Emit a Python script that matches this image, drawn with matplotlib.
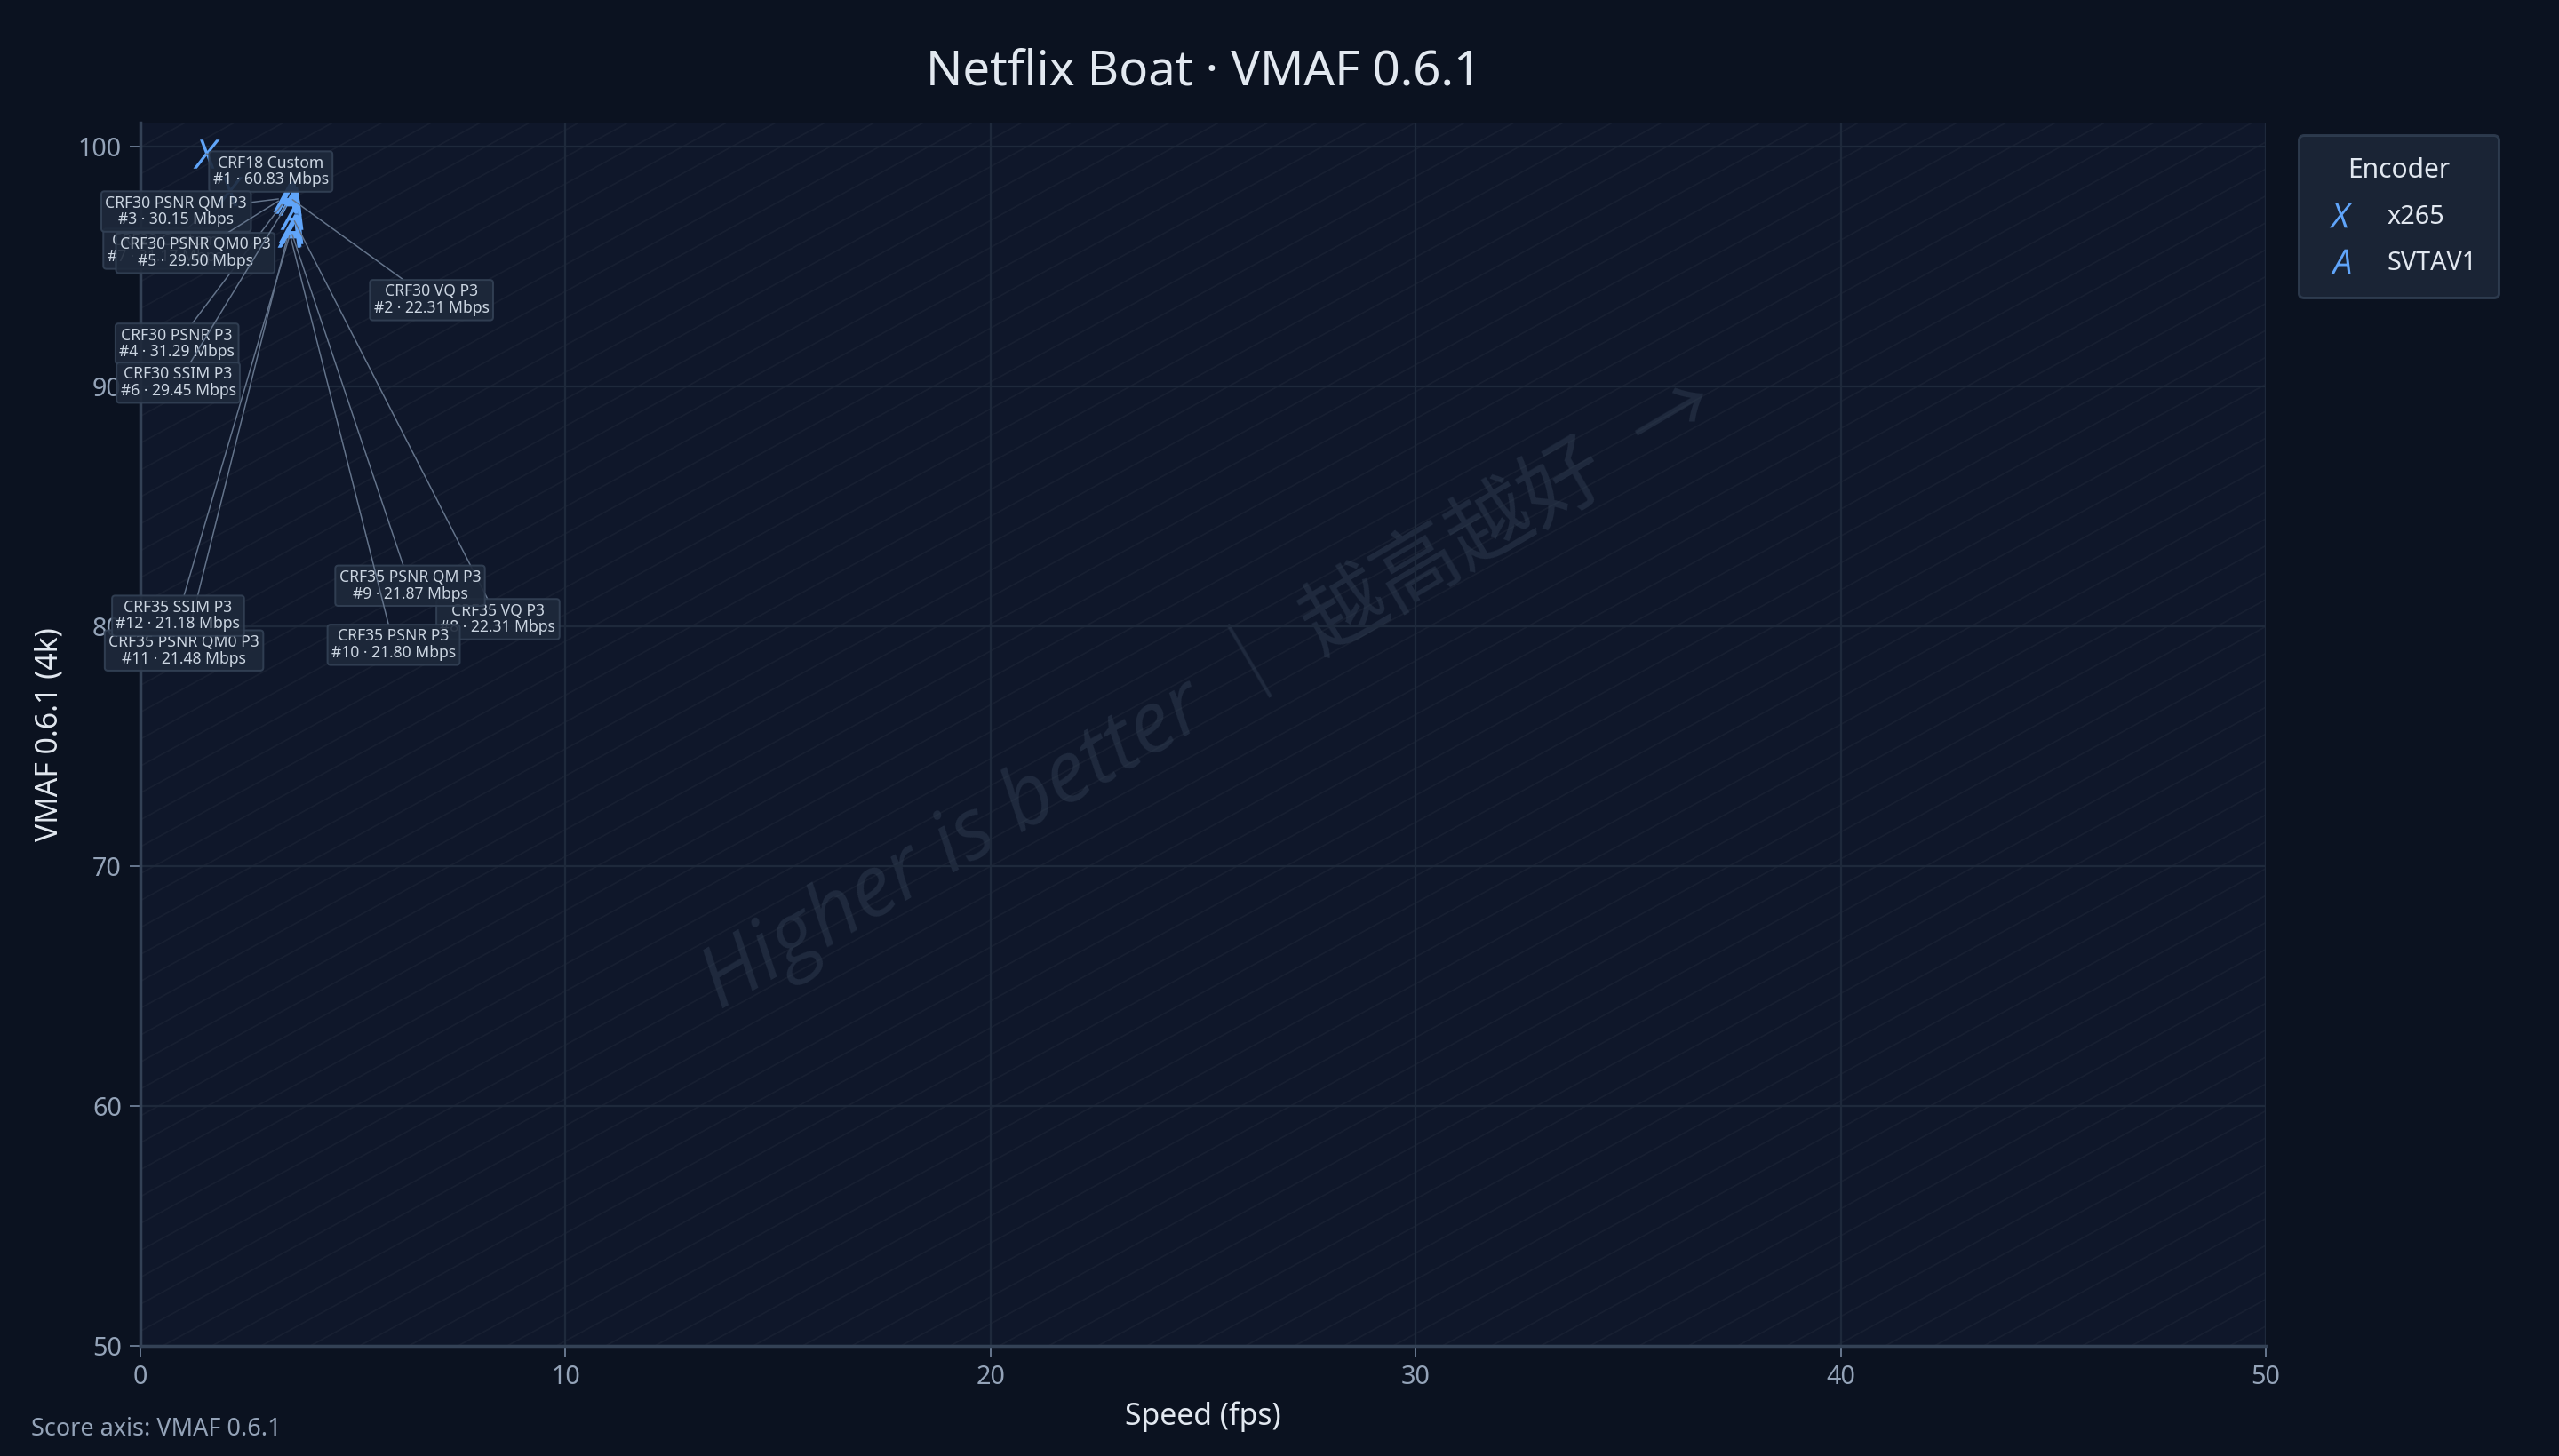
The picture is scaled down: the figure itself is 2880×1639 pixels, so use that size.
import matplotlib
matplotlib.use('Agg')
import matplotlib.pyplot as plt
import numpy as np

# Data
encoders = ['x265', 'SVTAV1', 'SVTAV1', 'SVTAV1', 'SVTAV1', 'SVTAV1',
            'x265', 'SVTAV1', 'SVTAV1', 'SVTAV1', 'SVTAV1', 'SVTAV1']
configs = ['CRF18 Custom', 'CRF30 VQ P3', 'CRF30 PSNR QM P3', 'CRF30 PSNR P3',
           'CRF30 PSNR QM0 P3', 'CRF30 SSIM P3', 'CRF22 Custom', 'CRF35 VQ P3',
           'CRF35 PSNR QM P3', 'CRF35 PSNR P3', 'CRF35 PSNR QM0 P3', 'CRF35 SSIM P3']
ranks = [1, 2, 3, 4, 5, 6, 7, 8, 9, 10, 11, 12]
speed_fps = [1.55, 3.45, 3.40, 3.42, 3.38, 3.50, 2.09, 3.55, 3.52, 3.50, 3.48, 3.55]
vmaf = [99.70, 97.95, 97.85, 97.80, 97.88, 97.75, 98.15, 97.15, 96.60, 96.45, 96.40, 96.55]
bitrate_mbps = [60.83, 22.31, 30.15, 31.29, 29.50, 29.45, 31.17, 22.31, 21.87, 21.80, 21.48, 21.18]

encoder_names = ['x265', 'SVTAV1']
encoder_markers = {'x265': '$X$', 'SVTAV1': '$A$'}

# label offsets (points) from each point
label_offsets = [(29, -8), (65, -47), (-49, -6), (-49, -65), (-40, -25), (-50, -82),
                 (-29, -26), (93, -182), (54, -161), (47, -186), (-47, -188), (-51, -174)]

FIG_BG = '#0b1220'
AX_BG = '#0f172a'
BLUE = '#60a5fa'

plt.rcParams['font.family'] = ['Noto Sans', 'Noto Sans CJK SC', 'DejaVu Sans']
plt.rcParams['mathtext.fontset'] = 'custom'
plt.rcParams['mathtext.it'] = 'Open Sans:italic'
plt.rcParams['mathtext.rm'] = 'Open Sans'

fig = plt.figure(figsize=(16, 1639 / 180), dpi=180, facecolor=FIG_BG)
ax = fig.add_axes([0.0549, 0.0757, 0.8305, 0.8401])
ax.set_facecolor(AX_BG)

ax.set_xlim(0, 50)
ax.set_ylim(50, 101)
ax.set_xticks([0, 10, 20, 30, 40, 50])
ax.set_yticks([50, 60, 70, 80, 90, 100])

# faint diagonal stripes
for c in np.arange(-1.0, 1.2, 0.022):
    xs = np.array([0, 1])
    ys = c + xs * 0.95
    ax.plot(xs, ys, transform=ax.transAxes, color='#ffffff', alpha=0.035,
            lw=0.7, zorder=0, clip_on=True)

ax.grid(True, color='#1e293b', lw=0.9, zorder=0.5)
for side in ['top', 'right']:
    ax.spines[side].set_visible(False)
for side in ['left', 'bottom']:
    ax.spines[side].set_color('#334155')
    ax.spines[side].set_linewidth(1.4)
ax.tick_params(colors='#94a3b8', labelsize=11.5, length=5, width=0.8)
ax.tick_params(axis='both', color='#64748b')

# watermark
ax.text(0.502, 0.535, 'Higher is better ｜ 越高越好  →', transform=ax.transAxes,
        rotation=30.5, ha='center', va='center', fontsize=38, style='italic',
        color='#334155', alpha=0.45, zorder=0.6,
        family=['Open Sans', 'Noto Sans CJK SC', 'DejaVu Sans'])

# points
for enc in encoder_names:
    xs = [s for s, e in zip(speed_fps, encoders) if e == enc]
    ys = [v for v, e in zip(vmaf, encoders) if e == enc]
    ax.plot(xs, ys, linestyle='none', marker=encoder_markers[enc], markersize=13,
            color=BLUE, markeredgewidth=0, label=enc, zorder=4)

# labels (x265 first, then SVTAV1)
order = [i for i in range(len(configs)) if encoders[i] == 'x265'] + \
        [i for i in range(len(configs)) if encoders[i] != 'x265']
for i in order:
    txt = '%s\n#%d · %.2f Mbps' % (configs[i], ranks[i], bitrate_mbps[i])
    ax.annotate(txt, xy=(speed_fps[i], vmaf[i]), xytext=label_offsets[i],
                textcoords='offset points', ha='center', va='center',
                fontsize=7, color='#cbd5e1', linespacing=1.05, zorder=5,
                bbox=dict(boxstyle='round,pad=0.25,rounding_size=0.2', fc='#1e293b',
                          ec='#334155', lw=0.8, alpha=0.9),
                arrowprops=dict(arrowstyle='-', color='#64748b', lw=0.6,
                                shrinkA=0, shrinkB=3))

ax.set_xlabel('Speed (fps)', color='#e2e8f0', fontsize=13.5, labelpad=5)
ax.set_ylabel('VMAF 0.6.1 (4k)', color='#e2e8f0', fontsize=13.5, labelpad=6)

fig.text(0.4702, 0.9505, 'Netflix Boat · VMAF 0.6.1', ha='center', va='center',
         color='#e2e8f0', fontsize=21.8)
fig.text(0.012, 0.018, 'Score axis: VMAF 0.6.1', ha='left', va='center',
         color='#94a3b8', fontsize=10.8)

leg = ax.legend(title='Encoder', loc='upper left', bbox_to_anchor=(1.0095, 1.0),
                frameon=True, fontsize=11.5, title_fontsize=12, borderpad=0.85,
                labelspacing=0.8, handletextpad=1.0, handlelength=1.6,
                markerscale=0.85)
leg.get_frame().set_facecolor('#1e293b')
leg.get_frame().set_edgecolor('#334155')
leg.get_frame().set_linewidth(1.2)
leg.get_title().set_color('#e2e8f0')
for t in leg.get_texts():
    t.set_color('#e2e8f0')

fig.savefig('out.png', dpi=180, facecolor=FIG_BG)
